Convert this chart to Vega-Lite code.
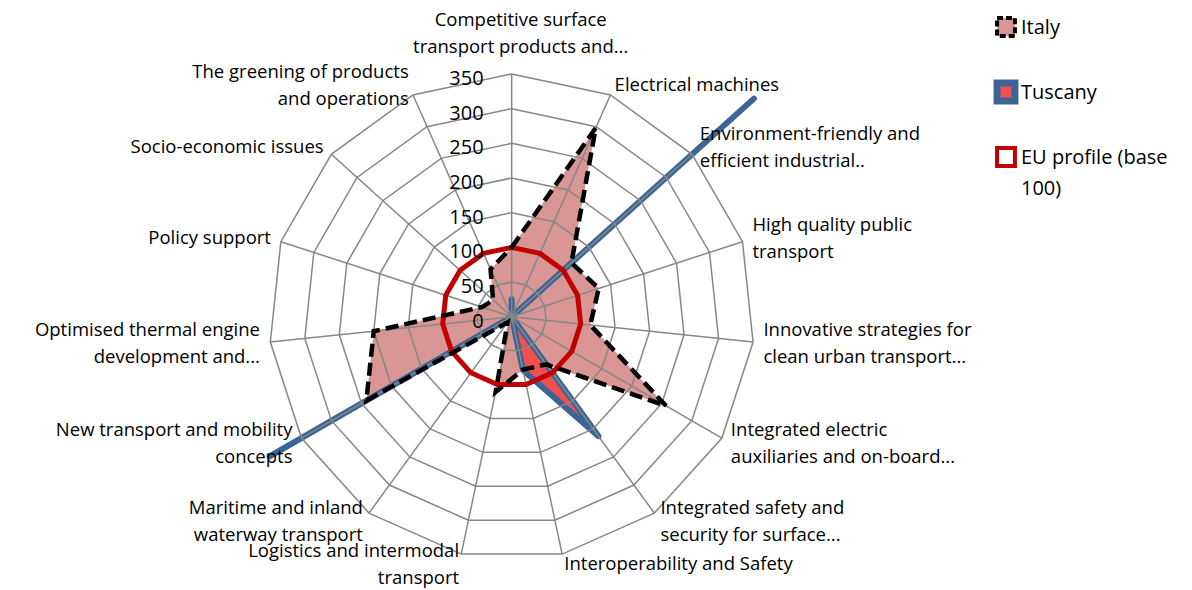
{
  "$schema": "https://vega.github.io/schema/vega-lite/v6.json",
  "width": 1192,
  "height": 590,
  "padding": 0,
  "autosize": {"type": "none"},
  "background": "white",
  "config": {"view": {"stroke": null}, "font": "Open Sans"},
  "datasets": {
    "axes": [
      {"idx": 0, "axis": "Competitive surface transport products and...", "label": "Competitive surface\ntransport products and...", "rings": [50, 100, 150, 200, 250, 300, 350]},
      {"idx": 1, "axis": "Electrical machines", "label": "Electrical machines", "rings": [50, 100, 150, 200, 250, 300, 350]},
      {"idx": 2, "axis": "Environment-friendly and efficient industrial..", "label": "Environment-friendly and\nefficient industrial..", "rings": [50, 100, 150, 200, 250, 300, 350]},
      {"idx": 3, "axis": "High quality public transport", "label": "High quality public\ntransport", "rings": [50, 100, 150, 200, 250, 300, 350]},
      {"idx": 4, "axis": "Innovative strategies for clean urban transport...", "label": "Innovative strategies for\nclean urban transport...", "rings": [50, 100, 150, 200, 250, 300, 350]},
      {"idx": 5, "axis": "Integrated electric auxiliaries and on-board...", "label": "Integrated electric\nauxiliaries and on-board...", "rings": [50, 100, 150, 200, 250, 300, 350]},
      {"idx": 6, "axis": "Integrated safety and security for surface...", "label": "Integrated safety and\nsecurity for surface...", "rings": [50, 100, 150, 200, 250, 300, 350]},
      {"idx": 7, "axis": "Interoperability and Safety", "label": "Interoperability and Safety", "rings": [50, 100, 150, 200, 250, 300, 350]},
      {"idx": 8, "axis": "Logistics and intermodal transport", "label": "Logistics and intermodal\ntransport", "rings": [50, 100, 150, 200, 250, 300, 350]},
      {"idx": 9, "axis": "Maritime and inland waterway transport", "label": "Maritime and inland\nwaterway transport", "rings": [50, 100, 150, 200, 250, 300, 350]},
      {"idx": 10, "axis": "New transport and mobility concepts", "label": "New transport and mobility\nconcepts", "rings": [50, 100, 150, 200, 250, 300, 350]},
      {"idx": 11, "axis": "Optimised thermal engine development and...", "label": "Optimised thermal engine\ndevelopment and...", "rings": [50, 100, 150, 200, 250, 300, 350]},
      {"idx": 12, "axis": "Policy support", "label": "Policy support", "rings": [50, 100, 150, 200, 250, 300, 350]},
      {"idx": 13, "axis": "Socio-economic issues", "label": "Socio-economic issues", "rings": [50, 100, 150, 200, 250, 300, 350]},
      {"idx": 14, "axis": "The greening of products and operations", "label": "The greening of products\nand operations", "rings": [50, 100, 150, 200, 250, 300, 350]}
    ],
    "levels": [
      {"level": 0}, {"level": 50}, {"level": 100}, {"level": 150},
      {"level": 200}, {"level": 250}, {"level": 300}, {"level": 350}
    ],
    "values": [
      {"series": "Italy", "axis": "Competitive surface transport products and...", "value": 100},
      {"series": "Italy", "axis": "Electrical machines", "value": 298},
      {"series": "Italy", "axis": "Environment-friendly and efficient industrial..", "value": 116},
      {"series": "Italy", "axis": "High quality public transport", "value": 132},
      {"series": "Italy", "axis": "Innovative strategies for clean urban transport...", "value": 114},
      {"series": "Italy", "axis": "Integrated electric auxiliaries and on-board...", "value": 257},
      {"series": "Italy", "axis": "Integrated safety and security for surface...", "value": 85},
      {"series": "Italy", "axis": "Interoperability and Safety", "value": 78},
      {"series": "Italy", "axis": "Logistics and intermodal transport", "value": 111},
      {"series": "Italy", "axis": "Maritime and inland waterway transport", "value": 10},
      {"series": "Italy", "axis": "New transport and mobility concepts", "value": 242},
      {"series": "Italy", "axis": "Optimised thermal engine development and...", "value": 200},
      {"series": "Italy", "axis": "Policy support", "value": 45},
      {"series": "Italy", "axis": "Socio-economic issues", "value": 36},
      {"series": "Italy", "axis": "The greening of products and operations", "value": 75},
      {"series": "Tuscany", "axis": "Competitive surface transport products and...", "value": 25},
      {"series": "Tuscany", "axis": "Electrical machines", "value": 0},
      {"series": "Tuscany", "axis": "Environment-friendly and efficient industrial..", "value": 470},
      {"series": "Tuscany", "axis": "High quality public transport", "value": 0},
      {"series": "Tuscany", "axis": "Innovative strategies for clean urban transport...", "value": 0},
      {"series": "Tuscany", "axis": "Integrated electric auxiliaries and on-board...", "value": 0},
      {"series": "Tuscany", "axis": "Integrated safety and security for surface...", "value": 213},
      {"series": "Tuscany", "axis": "Interoperability and Safety", "value": 79},
      {"series": "Tuscany", "axis": "Logistics and intermodal transport", "value": 0},
      {"series": "Tuscany", "axis": "Maritime and inland waterway transport", "value": 0},
      {"series": "Tuscany", "axis": "New transport and mobility concepts", "value": 403},
      {"series": "Tuscany", "axis": "Optimised thermal engine development and...", "value": 0},
      {"series": "Tuscany", "axis": "Policy support", "value": 0},
      {"series": "Tuscany", "axis": "Socio-economic issues", "value": 0},
      {"series": "Tuscany", "axis": "The greening of products and operations", "value": 0},
      {"series": "EU profile (base 100)", "axis": "Competitive surface transport products and...", "value": 100},
      {"series": "EU profile (base 100)", "axis": "Electrical machines", "value": 100},
      {"series": "EU profile (base 100)", "axis": "Environment-friendly and efficient industrial..", "value": 100},
      {"series": "EU profile (base 100)", "axis": "High quality public transport", "value": 100},
      {"series": "EU profile (base 100)", "axis": "Innovative strategies for clean urban transport...", "value": 100},
      {"series": "EU profile (base 100)", "axis": "Integrated electric auxiliaries and on-board...", "value": 100},
      {"series": "EU profile (base 100)", "axis": "Integrated safety and security for surface...", "value": 100},
      {"series": "EU profile (base 100)", "axis": "Interoperability and Safety", "value": 100},
      {"series": "EU profile (base 100)", "axis": "Logistics and intermodal transport", "value": 100},
      {"series": "EU profile (base 100)", "axis": "Maritime and inland waterway transport", "value": 100},
      {"series": "EU profile (base 100)", "axis": "New transport and mobility concepts", "value": 100},
      {"series": "EU profile (base 100)", "axis": "Optimised thermal engine development and...", "value": 100},
      {"series": "EU profile (base 100)", "axis": "Policy support", "value": 100},
      {"series": "EU profile (base 100)", "axis": "Socio-economic issues", "value": 100},
      {"series": "EU profile (base 100)", "axis": "The greening of products and operations", "value": 100}
    ]
  },
  "layer": [
    {
      "data": {"name": "values"},
      "transform": [
        {"filter": "datum.series === 'Italy'"},
        {"lookup": "axis", "from": {"data": {"name": "axes"}, "key": "axis", "fields": ["idx"]}},
        {"calculate": "datum.idx * 2 * PI / 15", "as": "a"},
        {"calculate": "datum.value * sin(datum.a)", "as": "x"},
        {"calculate": "datum.value * cos(datum.a)", "as": "y"}
      ],
      "mark": {"type": "line", "interpolate": "linear-closed", "fill": "#D99694", "stroke": "#D99694", "strokeWidth": 0},
      "encoding": {
        "x": {"field": "x", "type": "quantitative", "scale": {"domain": [-737.9, 981.1], "nice": false, "zero": false}, "axis": null},
        "y": {"field": "y", "type": "quantitative", "scale": {"domain": [-394.1, 456.7], "nice": false, "zero": false}, "axis": null},
        "order": {"field": "idx", "type": "quantitative"}
      }
    },
    {
      "data": {"name": "values"},
      "transform": [
        {"filter": "datum.series === 'Tuscany'"},
        {"lookup": "axis", "from": {"data": {"name": "axes"}, "key": "axis", "fields": ["idx"]}},
        {"calculate": "datum.idx * 2 * PI / 15", "as": "a"},
        {"calculate": "datum.value * sin(datum.a)", "as": "x"},
        {"calculate": "datum.value * cos(datum.a)", "as": "y"}
      ],
      "mark": {"type": "line", "interpolate": "linear-closed", "fill": "#F25050", "stroke": "#3B6596", "strokeWidth": 6, "strokeJoin": "round", "strokeCap": "round"},
      "encoding": {
        "x": {"field": "x", "type": "quantitative", "scale": {"domain": [-737.9, 981.1], "nice": false, "zero": false}, "axis": null},
        "y": {"field": "y", "type": "quantitative", "scale": {"domain": [-394.1, 456.7], "nice": false, "zero": false}, "axis": null},
        "order": {"field": "idx", "type": "quantitative"}
      }
    },
    {
      "data": {"name": "axes"},
      "transform": [
        {"flatten": ["rings"], "as": ["ring"]},
        {"calculate": "datum.idx * 2 * PI / 15", "as": "a"},
        {"calculate": "datum.ring * sin(datum.a)", "as": "gx"},
        {"calculate": "datum.ring * cos(datum.a)", "as": "gy"}
      ],
      "mark": {"type": "line", "interpolate": "linear-closed", "stroke": "#878787", "strokeWidth": 1.5},
      "encoding": {
        "x": {"field": "gx", "type": "quantitative", "scale": {"domain": [-737.9, 981.1], "nice": false, "zero": false}, "axis": null},
        "y": {"field": "gy", "type": "quantitative", "scale": {"domain": [-394.1, 456.7], "nice": false, "zero": false}, "axis": null},
        "detail": {"field": "ring", "type": "nominal"},
        "order": {"field": "idx", "type": "quantitative"}
      }
    },
    {
      "data": {"name": "axes"},
      "transform": [
        {"calculate": "datum.idx * 2 * PI / 15", "as": "a"},
        {"calculate": "350 * sin(datum.a)", "as": "sx"},
        {"calculate": "350 * cos(datum.a)", "as": "sy"}
      ],
      "mark": {"type": "rule", "stroke": "#878787", "strokeWidth": 1.5},
      "encoding": {
        "x": {"field": "sx", "type": "quantitative", "scale": {"domain": [-737.9, 981.1], "nice": false, "zero": false}, "axis": null},
        "y": {"field": "sy", "type": "quantitative", "scale": {"domain": [-394.1, 456.7], "nice": false, "zero": false}, "axis": null},
        "x2": {"datum": 0},
        "y2": {"datum": 0}
      }
    },
    {
      "data": {"name": "values"},
      "transform": [
        {"filter": "datum.series === 'EU profile (base 100)'"},
        {"lookup": "axis", "from": {"data": {"name": "axes"}, "key": "axis", "fields": ["idx"]}},
        {"calculate": "datum.idx * 2 * PI / 15", "as": "a"},
        {"calculate": "datum.value * sin(datum.a)", "as": "x"},
        {"calculate": "datum.value * cos(datum.a)", "as": "y"}
      ],
      "mark": {"type": "line", "interpolate": "linear-closed", "stroke": "#C00000", "strokeWidth": 5, "strokeJoin": "round"},
      "encoding": {
        "x": {"field": "x", "type": "quantitative", "scale": {"domain": [-737.9, 981.1], "nice": false, "zero": false}, "axis": null},
        "y": {"field": "y", "type": "quantitative", "scale": {"domain": [-394.1, 456.7], "nice": false, "zero": false}, "axis": null},
        "order": {"field": "idx", "type": "quantitative"}
      }
    },
    {
      "data": {"name": "values"},
      "transform": [
        {"filter": "datum.series === 'Italy'"},
        {"lookup": "axis", "from": {"data": {"name": "axes"}, "key": "axis", "fields": ["idx"]}},
        {"calculate": "datum.idx * 2 * PI / 15", "as": "a"},
        {"calculate": "datum.value * sin(datum.a)", "as": "x"},
        {"calculate": "datum.value * cos(datum.a)", "as": "y"}
      ],
      "mark": {"type": "line", "interpolate": "linear-closed", "stroke": "#000000", "strokeWidth": 4.5, "strokeDash": [13, 6]},
      "encoding": {
        "x": {"field": "x", "type": "quantitative", "scale": {"domain": [-737.9, 981.1], "nice": false, "zero": false}, "axis": null},
        "y": {"field": "y", "type": "quantitative", "scale": {"domain": [-394.1, 456.7], "nice": false, "zero": false}, "axis": null},
        "order": {"field": "idx", "type": "quantitative"}
      }
    },
    {
      "data": {"name": "levels"},
      "mark": {"type": "text", "align": "right", "baseline": "middle", "dx": -28, "dy": 5, "fontSize": 20, "color": "#000000"},
      "encoding": {
        "x": {"datum": 0, "type": "quantitative", "scale": {"domain": [-737.9, 981.1], "nice": false, "zero": false}, "axis": null},
        "y": {"field": "level", "type": "quantitative", "scale": {"domain": [-394.1, 456.7], "nice": false, "zero": false}, "axis": null},
        "text": {"field": "level", "type": "quantitative", "format": "d"}
      }
    },
    {
      "data": {"name": "axes"},
      "transform": [
        {"filter": "datum.idx >= 1 && datum.idx <= 7 && indexof(datum.label, '\\n') < 0"},
        {"calculate": "datum.idx * 2 * PI / 15", "as": "a"},
        {"calculate": "365 * sin(datum.a)", "as": "lx"},
        {"calculate": "365 * cos(datum.a)", "as": "ly"}
      ],
      "mark": {"type": "text", "align": "left", "baseline": "middle", "fontSize": 18.5, "lineBreak": "\n", "lineHeight": 27, "color": "#000000"},
      "encoding": {
        "x": {"field": "lx", "type": "quantitative", "scale": {"domain": [-737.9, 981.1], "nice": false, "zero": false}, "axis": null},
        "y": {"field": "ly", "type": "quantitative", "scale": {"domain": [-394.1, 456.7], "nice": false, "zero": false}, "axis": null},
        "text": {"field": "label"}
      }
    },
    {
      "data": {"name": "axes"},
      "transform": [
        {"filter": "datum.idx >= 1 && datum.idx <= 7 && indexof(datum.label, '\\n') >= 0"},
        {"calculate": "datum.idx * 2 * PI / 15", "as": "a"},
        {"calculate": "365 * sin(datum.a)", "as": "lx"},
        {"calculate": "365 * cos(datum.a)", "as": "ly"}
      ],
      "mark": {"type": "text", "align": "left", "baseline": "middle", "dy": -13.5, "fontSize": 18.5, "lineBreak": "\n", "lineHeight": 27, "color": "#000000"},
      "encoding": {
        "x": {"field": "lx", "type": "quantitative", "scale": {"domain": [-737.9, 981.1], "nice": false, "zero": false}, "axis": null},
        "y": {"field": "ly", "type": "quantitative", "scale": {"domain": [-394.1, 456.7], "nice": false, "zero": false}, "axis": null},
        "text": {"field": "label"}
      }
    },
    {
      "data": {"name": "axes"},
      "transform": [
        {"filter": "datum.idx >= 8 && indexof(datum.label, '\\n') < 0"},
        {"calculate": "datum.idx * 2 * PI / 15", "as": "a"},
        {"calculate": "365 * sin(datum.a)", "as": "lx"},
        {"calculate": "365 * cos(datum.a)", "as": "ly"}
      ],
      "mark": {"type": "text", "align": "right", "baseline": "middle", "fontSize": 18.5, "lineBreak": "\n", "lineHeight": 27, "color": "#000000"},
      "encoding": {
        "x": {"field": "lx", "type": "quantitative", "scale": {"domain": [-737.9, 981.1], "nice": false, "zero": false}, "axis": null},
        "y": {"field": "ly", "type": "quantitative", "scale": {"domain": [-394.1, 456.7], "nice": false, "zero": false}, "axis": null},
        "text": {"field": "label"}
      }
    },
    {
      "data": {"name": "axes"},
      "transform": [
        {"filter": "datum.idx >= 8 && indexof(datum.label, '\\n') >= 0"},
        {"calculate": "datum.idx * 2 * PI / 15", "as": "a"},
        {"calculate": "365 * sin(datum.a)", "as": "lx"},
        {"calculate": "365 * cos(datum.a)", "as": "ly"}
      ],
      "mark": {"type": "text", "align": "right", "baseline": "middle", "dy": -13.5, "fontSize": 18.5, "lineBreak": "\n", "lineHeight": 27, "color": "#000000"},
      "encoding": {
        "x": {"field": "lx", "type": "quantitative", "scale": {"domain": [-737.9, 981.1], "nice": false, "zero": false}, "axis": null},
        "y": {"field": "ly", "type": "quantitative", "scale": {"domain": [-394.1, 456.7], "nice": false, "zero": false}, "axis": null},
        "text": {"field": "label"}
      }
    },
    {
      "data": {"name": "axes"},
      "transform": [
        {"filter": "datum.idx === 0"},
        {"calculate": "0", "as": "lx"},
        {"calculate": "428", "as": "ly"}
      ],
      "mark": {"type": "text", "align": "center", "baseline": "middle", "dx": 9, "fontSize": 18.5, "lineBreak": "\n", "lineHeight": 27, "color": "#000000"},
      "encoding": {
        "x": {"field": "lx", "type": "quantitative", "scale": {"domain": [-737.9, 981.1], "nice": false, "zero": false}, "axis": null},
        "y": {"field": "ly", "type": "quantitative", "scale": {"domain": [-394.1, 456.7], "nice": false, "zero": false}, "axis": null},
        "text": {"field": "label"}
      }
    },
    {
      "data": {"name": "values"},
      "transform": [{"filter": "datum.axis === 'Policy support'"}],
      "mark": {"type": "point", "shape": "square", "opacity": 0, "filled": true},
      "encoding": {
        "fill": {
          "field": "series", "type": "nominal",
          "scale": {"domain": ["Italy", "Tuscany", "EU profile (base 100)"], "range": ["#D99694", "#F25050", "#FFFFFF"]},
          "legend": {
            "orient": "none", "legendX": 996, "legendY": 17, "title": null,
            "symbolType": "square", "symbolSize": 320, "symbolStrokeWidth": 4, "symbolOpacity": 1,
            "labelFontSize": 20, "labelFont": "Open Sans", "labelColor": "#000000", "labelLimit": 300,
            "labelOffset": 5, "rowPadding": 25, "labelBaseline": "alphabetic",
            "labelExpr": "datum.label === 'EU profile (base 100)' ? ['EU profile (base', '100)'] : datum.label",
            "encode": {
              "symbols": {"update": {"opacity": {"value": 1}, "strokeDash": {"signal": "datum.value === 'Italy' ? [6, 3] : [1, 0]"}, "strokeWidth": {"signal": "datum.value === 'Tuscany' ? 7 : 4"}}},
              "labels": {"update": {"dy": {"value": 7}, "lineHeight": {"value": 31}}}
            }
          }
        },
        "stroke": {
          "field": "series", "type": "nominal",
          "scale": {"domain": ["Italy", "Tuscany", "EU profile (base 100)"], "range": ["#000000", "#3B6596", "#C00000"]},
          "legend": {
            "orient": "none", "legendX": 996, "legendY": 17, "title": null,
            "symbolType": "square", "symbolSize": 320, "symbolStrokeWidth": 4, "symbolOpacity": 1,
            "labelFontSize": 20, "labelFont": "Open Sans", "labelColor": "#000000", "labelLimit": 300,
            "labelOffset": 5, "rowPadding": 25, "labelBaseline": "alphabetic",
            "labelExpr": "datum.label === 'EU profile (base 100)' ? ['EU profile (base', '100)'] : datum.label",
            "encode": {
              "symbols": {"update": {"opacity": {"value": 1}, "strokeDash": {"signal": "datum.value === 'Italy' ? [6, 3] : [1, 0]"}, "strokeWidth": {"signal": "datum.value === 'Tuscany' ? 7 : 4"}}},
              "labels": {"update": {"dy": {"value": 7}, "lineHeight": {"value": 31}}}
            }
          }
        }
      }
    }
  ]
}
